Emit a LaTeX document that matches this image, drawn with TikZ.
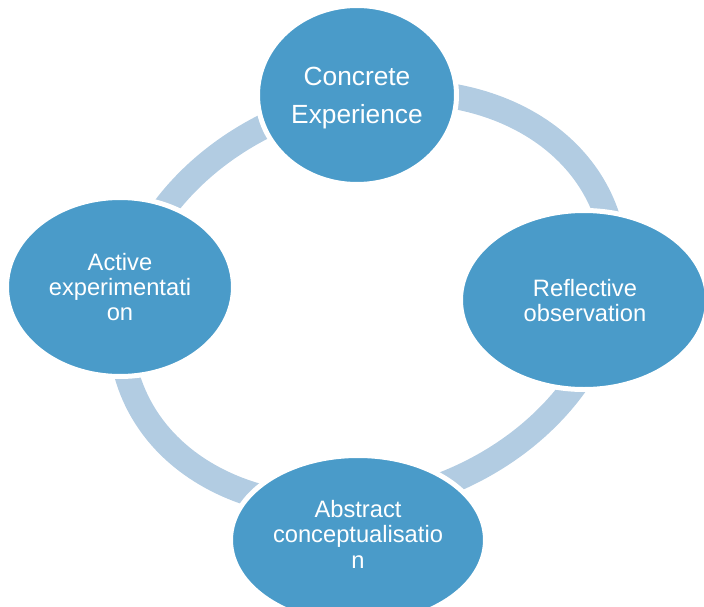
\documentclass[tikz,border=0pt]{standalone}
\usepackage{fontspec}
\setmainfont{Liberation Sans}
\usetikzlibrary{shapes.geometric}
\definecolor{nodeblue}{HTML}{4A9BC9}
\definecolor{ringblue}{HTML}{B2CCE2}
\begin{document}
\begin{tikzpicture}[x=1pt,y=-1pt,
  stage/.style={ellipse, fill=nodeblue, draw=white, line width=5pt, inner sep=0pt},
  lbl/.style={text=white, align=center, inner sep=0pt, font=\fontsize{23.7}{25}\selectfont},
  biglbl/.style={lbl, font=\fontsize{26.3}{38}\selectfont}]
\useasboundingbox (0,0) rectangle (704,607);
\clip (0,0) rectangle (704,607);
\coordinate (ringc) at (368,299);
\draw[ringblue, line width=25pt, rotate around={20:(ringc)}] (ringc) ellipse [x radius=253pt, y radius=200pt];
\node[stage, minimum width=199pt, minimum height=179pt] (ce) at (357,95) {};
\node[stage, minimum width=247pt, minimum height=179pt] (ro) at (584,300) {};
\node[stage, minimum width=255pt, minimum height=169pt] (ac) at (358,540) {};
\node[stage, minimum width=227pt, minimum height=179pt] (ae) at (120,287) {};
\node[biglbl] (cet) at (357,98) {Concrete\\Experience};
\node[lbl] (rot) at (585,301) {Reflective\\observation};
\node[lbl, font=\fontsize{23.7}{25.5}\selectfont] (act) at (358,534) {Abstract\\conceptualisatio\\n};
\node[lbl] (aet) at (ae) {Active\\experimentati\\on};
\end{tikzpicture}
\end{document}
